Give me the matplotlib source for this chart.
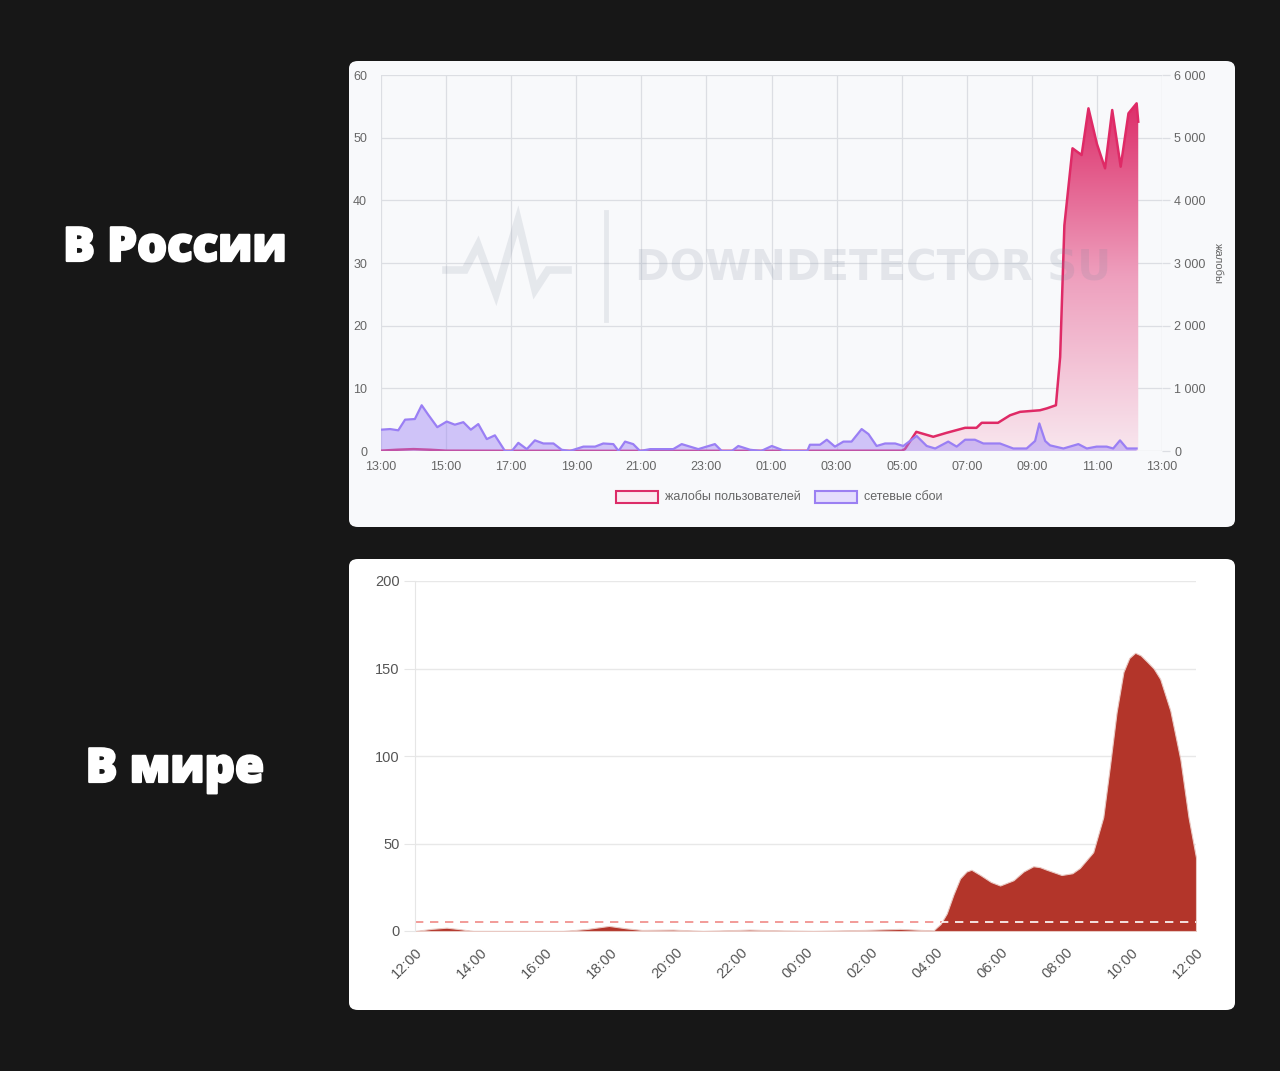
import numpy as np
import matplotlib
matplotlib.use("Agg")
import matplotlib.pyplot as plt
from matplotlib.patches import FancyBboxPatch, Rectangle
from matplotlib.colors import LinearSegmentedColormap
from matplotlib.lines import Line2D
import matplotlib.patheffects as pe

plt.rcParams["font.family"] = ["Liberation Sans", "DejaVu Sans"]

# ---------------- DATA ----------------
# Top chart (Russia): hours since 13:00
ru_tick_labels = ["13:00", "15:00", "17:00", "19:00", "21:00", "23:00", "01:00",
                  "03:00", "05:00", "07:00", "09:00", "11:00", "13:00"]
ru_left_ticks = [0, 10, 20, 30, 40, 50, 60]
ru_right_ticks = [0, 1000, 2000, 3000, 4000, 5000, 6000]
ru_right_labels = ["0", "1 000", "2 000", "3 000", "4 000", "5 000", "6 000"]

complaints_t = [0.0, 0.5, 1.0, 1.5, 2.0, 4.0, 8.0, 12.0, 16.0, 16.1, 16.45, 16.97,
                17.38, 17.95, 18.3, 18.46, 18.96, 19.33, 19.64, 20.25, 20.46, 20.74,
                20.87, 21.0, 21.25, 21.53, 21.74, 22.0, 22.25, 22.47, 22.73, 22.97,
                23.22, 23.27]
complaints_v = [5, 20, 30, 20, 5, 3, 2, 3, 5, 30, 306, 227,
                290, 370, 370, 450, 450, 570, 625, 650, 680, 730,
                1500, 3600, 4830, 4723, 5468, 4900, 4511, 5441, 4537, 5388,
                5548, 5255]

outages_t = [0.0, 0.28, 0.53, 0.74, 1.04, 1.25, 1.45, 1.73, 2.02, 2.27, 2.53, 2.76,
             2.99, 3.25, 3.5, 3.81, 4.02, 4.22, 4.48, 4.73, 4.99, 5.3, 5.55, 5.8,
             6.22, 6.58, 6.83, 7.14, 7.3, 7.5, 7.75, 7.96, 8.27, 8.98, 9.24, 9.75,
             10.26, 10.47, 10.78, 10.98, 11.34, 11.68, 12.01, 12.36, 12.6, 13.1,
             13.18, 13.49, 13.7, 13.95, 14.21, 14.46, 14.77, 14.98, 15.23, 15.49,
             15.8, 16.05, 16.46, 16.77, 17.03, 17.43, 17.69, 17.95, 18.25, 18.51,
             19.02, 19.43, 19.84, 20.1, 20.23, 20.41, 20.56, 20.97, 21.43, 21.69,
             21.99, 22.3, 22.5, 22.71, 22.92, 23.22]
outages_v = [3.4, 3.5, 3.3, 5.0, 5.1, 7.3, 5.8, 3.8, 4.7, 4.2, 4.6, 3.4,
             4.3, 1.9, 2.5, 0.0, 0.0, 1.3, 0.3, 1.7, 1.2, 1.2, 0.2, 0.0,
             0.7, 0.7, 1.2, 1.1, 0.0, 1.5, 1.1, 0.0, 0.3, 0.3, 1.1, 0.3,
             1.1, 0.0, 0.0, 0.8, 0.2, 0.0, 0.8, 0.1, 0.0, 0.0,
             1.0, 1.0, 1.8, 0.7, 1.5, 1.5, 3.5, 2.7, 0.8, 1.2,
             1.2, 0.8, 2.4, 0.8, 0.4, 1.5, 0.7, 1.8, 1.8, 1.2,
             1.2, 0.4, 0.4, 1.6, 4.4, 1.6, 0.9, 0.4, 1.1, 0.4,
             0.7, 0.7, 0.4, 1.7, 0.4, 0.4]

# Bottom chart (world): hours since 12:00
w_tick_labels = ["12:00", "14:00", "16:00", "18:00", "20:00", "22:00", "00:00",
                 "02:00", "04:00", "06:00", "08:00", "10:00", "12:00"]
w_yticks = [0, 50, 100, 150, 200]
w_threshold = 5
world_t = [0.0, 0.5, 0.97, 1.4, 1.79, 3.0, 4.55, 5.3, 5.96, 6.5, 6.98, 7.93,
           8.85, 10.28, 11.3, 12.24, 13.78, 14.9, 15.93, 16.15, 16.34, 16.55,
           16.75, 16.95, 17.1, 17.37, 17.7, 17.98, 18.39, 18.7, 19.0, 19.2, 19.41, 19.87,
           20.2, 20.43, 20.84, 21.15, 21.36, 21.56, 21.77, 21.95, 22.13, 22.3, 22.49, 22.7,
           22.9, 23.21, 23.52, 23.77, 24.0]
world_v = [0, 1.2, 1.9, 1.0, 0, 0, 0, 1.2, 2.9, 1.5, 0.6, 0.8,
           0, 0.8, 0.3, 0, 0.6, 1.2, 0.3, 4, 10, 21,
           30, 34, 35, 32, 28, 26, 29, 34, 37, 36.5, 35, 32,
           33, 36, 45, 65, 95, 125, 148, 156, 159, 157.5, 154, 150,
           144, 126, 98, 65, 42]

# ---------------- FIGURE ----------------
W, H = 1280, 1071
fig = plt.figure(figsize=(W / 100, H / 100), dpi=100)
fig.patch.set_facecolor("#171717")


def fx(x):
    return x / W


def fy(y):
    return 1 - y / H


# panels (drawn below the axes)
for (x0, y0, x1, y1, col) in [(349, 61, 1235, 527, "#f8f9fb"), (349, 559, 1235, 1010, "#ffffff")]:
    p = FancyBboxPatch((fx(x0), fy(y1)), fx(x1 - x0), (y1 - y0) / H,
                       boxstyle="round,pad=0,rounding_size=0.007",
                       transform=fig.transFigure, facecolor=col, edgecolor="none", zorder=-10)
    fig.patches.append(p)

title_font = dict(family=["Open Sans", "DejaVu Sans"], fontweight=800, color="white", fontsize=34)
for (yy, s) in [(249, "В России"), (770, "В мире")]:
    fig.text(fx(175), fy(yy), s, ha="center", va="center",
             path_effects=[pe.withStroke(linewidth=1.6, foreground="white")], **title_font)

# ---------------- TOP CHART ----------------
ax = fig.add_axes([fx(381), fy(451), fx(781), 376 / H])
ax2 = ax.twinx()
ax.set_facecolor("none")
ax.set_xlim(0, 24)
ax.set_ylim(0, 6000)
for s in ax.spines.values():
    s.set_visible(False)
ax.set_xticks(np.arange(0, 25, 2))
ax.set_xticklabels(ru_tick_labels)
ax.yaxis.tick_right()
ax.set_yticks(ru_right_ticks)
ax.set_yticklabels(ru_right_labels)
ax.grid(True, color="#dcdee3", linewidth=0.9)
ax.tick_params(axis="both", colors="#dcdee3", labelcolor="#666666", labelsize=9, length=6, width=0.9)
ax.tick_params(axis="x", length=0, pad=7)
ax.tick_params(axis="y", pad=3)
ax.yaxis.set_label_position("right")
ax.set_ylabel("жалобы", rotation=-90, color="#666666", fontsize=8, labelpad=12)
ax.set_axisbelow(True)

# complaints with gradient fill
ct = np.array(complaints_t)
cv = np.array(complaints_v)
poly = ax.fill_between(ct, 0, cv, facecolor="none", edgecolor="none")
cmap = LinearSegmentedColormap.from_list("pk", ["#f8e6ee", "#ee9fbd", "#dc2c68"])
grad = np.linspace(0, 1, 256).reshape(-1, 1)
im = ax.imshow(grad, extent=[0, 24, 0, 5600], origin="lower", aspect="auto", cmap=cmap, zorder=2)
im.set_clip_path(poly.get_paths()[0], transform=ax.transData)
ax.plot(ct, cv, color="#df2a66", lw=1.8, zorder=3)
ax.set_xlim(0, 24)
ax.set_ylim(0, 6000)

# outages on twin (left scale)
ax2.set_ylim(0, 60)
ax2.set_xlim(0, 24)
ax2.yaxis.tick_left()
ax2.set_yticks(ru_left_ticks)
for s in ax2.spines.values():
    s.set_visible(False)
ax2.tick_params(axis="y", colors="#dcdee3", labelcolor="#666666", labelsize=9, length=0, pad=10)
ax2.fill_between(outages_t, 0, outages_v, facecolor="#9d83f6", alpha=0.45, edgecolor="none", zorder=4)
ax2.plot(outages_t, outages_v, color="#9a7ff4", lw=1.6, zorder=5)

# watermark (semi-transparent, above the data)
wm_col = "#7d879c"
ax2.text(0.63, 0.485, "DOWNDETECTOR SU", transform=ax2.transAxes, ha="center", va="center",
         fontsize=30, fontweight="bold", color=wm_col, alpha=0.17, zorder=6,
         family=["DejaVu Sans"])
logo_x = [446, 465, 478, 496, 518, 535, 548, 568]
logo_y = [270, 270, 245, 294, 220, 290, 270, 270]
fig.add_artist(Line2D([fx(v) for v in logo_x], [fy(v) for v in logo_y],
                      transform=fig.transFigure, color=wm_col, alpha=0.15, lw=5.5,
                      solid_joinstyle="miter", zorder=5))
fig.add_artist(Line2D([fx(606), fx(606)], [fy(212), fy(320)], transform=fig.transFigure,
                      color=wm_col, alpha=0.15, lw=3.5, zorder=5))

# legend
leg_y = 497
for (bx, label, ec, fc) in [(616, "жалобы пользователей", "#dc2c68", "#fbe9f0"),
                             (815, "сетевые сбои", "#9b80f2", "#e4ddfd")]:
    fig.patches.append(Rectangle((fx(bx), fy(leg_y + 6)), fx(42), 12 / H, transform=fig.transFigure,
                                 facecolor=fc, edgecolor=ec, lw=1.5))
    fig.text(fx(bx + 49), fy(leg_y), label, ha="left", va="center", fontsize=9, color="#666666")

# ---------------- BOTTOM CHART ----------------
bx_ = fig.add_axes([fx(415), fy(931), fx(781), 350 / H])
bx_.set_facecolor("none")
bx_.set_xlim(0, 24)
bx_.set_ylim(0, 200)
for k, s in bx_.spines.items():
    s.set_visible(k == "left")
bx_.spines["left"].set_color("#e6e6e6")
bx_.set_yticks(w_yticks)
bx_.set_xticks(np.arange(0, 25, 2))
bx_.set_xticklabels(w_tick_labels, rotation=45, ha="right", va="top", rotation_mode="anchor")
bx_.yaxis.grid(True, color="#e8e8e8", lw=1)
bx_.set_axisbelow(True)
bx_.tick_params(axis="y", colors="#e6e6e6", labelcolor="#555555", labelsize=10.5, length=8, pad=3)
bx_.tick_params(axis="x", length=0, labelcolor="#555555", labelsize=10.5, pad=10)

bx_.axhline(w_threshold, color="#f08a86", lw=1.2, ls=(0, (5, 4)), zorder=1)
wf = bx_.fill_between(world_t, 0, world_v, facecolor="#b3352a", edgecolor="#e9c9c3", lw=0.8, zorder=2)
wl = bx_.axhline(w_threshold, color="white", lw=1.2, ls=(0, (5, 4)), zorder=3)
wl.set_clip_path(wf.get_paths()[0], transform=bx_.transData)

fig.savefig("out.png", dpi=100, facecolor=fig.get_facecolor())
